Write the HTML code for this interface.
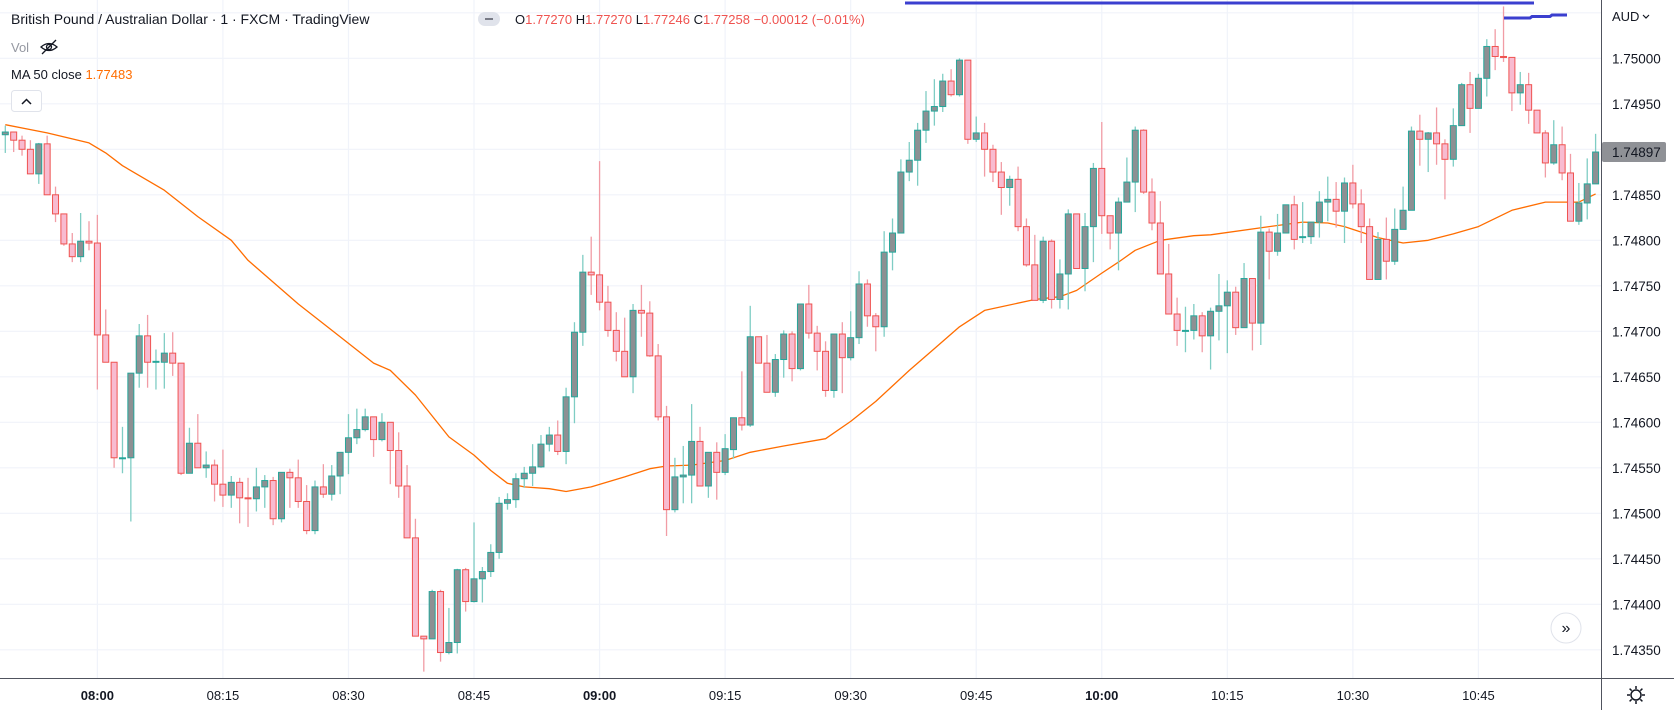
<!DOCTYPE html>
<html><head><meta charset="utf-8"><style>
html,body{margin:0;padding:0;background:#fff;}
svg{display:block;font-family:"Liberation Sans",sans-serif;}
</style></head><body>
<svg id="chart" width="1674" height="710" viewBox="0 0 1674 710" xmlns="http://www.w3.org/2000/svg">
<rect x="0" y="0" width="1674" height="710" fill="#ffffff"/>
<g id="grid"></g>
<g id="ma"></g>
<g id="candles"></g>
<g id="axes"></g>
<line x1="905" y1="3" x2="1534" y2="3" stroke="#3b3fcf" stroke-width="3"/>
<polyline points="1504,18 1530,18 1532,16.5 1550,16.5 1552,15 1567,15" fill="none" stroke="#3b3fcf" stroke-width="3"/>
<g>
<text x="11" y="24" font-size="14" fill="#131722">British Pound / Australian Dollar · 1 · FXCM · TradingView</text>
<rect x="478" y="12" width="22" height="14" rx="7" fill="#e0e3eb"/>
<rect x="485" y="18" width="8" height="2" fill="#787b86"/>
<text x="515" y="24" font-size="13" fill="#ef5350"><tspan fill="#131722">O</tspan>1.77270 <tspan fill="#131722">H</tspan>1.77270 <tspan fill="#131722">L</tspan>1.77246 <tspan fill="#131722">C</tspan>1.77258 −0.00012 (−0.01%)</text>
<text x="11" y="52" font-size="13" fill="#9598a1">Vol</text>
<g stroke="#131722" fill="none" stroke-width="1.3">
<path d="M41 47 Q49 40 57 47 Q49 54 41 47 Z"/><circle cx="49" cy="47" r="2.5"/><line x1="42" y1="54" x2="56" y2="40"/></g>
<text x="11" y="79" font-size="13" fill="#131722">MA 50 close <tspan fill="#ff6d00">1.77483</tspan></text>
<rect x="11.5" y="90.5" width="30" height="21" rx="3" fill="#fff" stroke="#e0e3eb"/>
<polyline points="22,104 26.5,99.5 31,104" fill="none" stroke="#131722" stroke-width="1.5"/>
</g>
<g>
<circle cx="1566" cy="628" r="15" fill="#fff" stroke="#e0e3eb"/>
<text x="1566" y="633" font-size="16" text-anchor="middle" fill="#131722">»</text></g>
<g fill="none" stroke="#131722" stroke-width="1.5">
<circle cx="1636" cy="695" r="5"/>
<path d="M1636 686v3M1636 701v3M1627 695h3M1642 695h3M1629.6 688.6l2.1 2.1M1640.3 699.3l2.1 2.1M1629.6 701.4l2.1-2.1M1640.3 690.7l2.1-2.1"/></g>
<text x="1612" y="21" font-size="13" fill="#131722">AUD</text>
<polyline points="1643,15 1646,18 1649,15" fill="none" stroke="#131722" stroke-width="1.2"/>
</svg>
<script>
const opens=[1.74916,1.74919,1.74910,1.74900,1.74873,1.74906,1.74850,1.74829,1.74796,1.74782,1.74799,1.74797,1.74696,1.74666,1.74561,1.74561,1.74654,1.74695,1.74666,1.74666,1.74676,1.74665,1.74544,1.74577,1.74550,1.74553,1.74532,1.74520,1.74534,1.74517,1.74516,1.74529,1.74536,1.74494,1.74545,1.74539,1.74513,1.74481,1.74529,1.74521,1.74541,1.74567,1.74583,1.74592,1.74606,1.74581,1.74600,1.74569,1.74530,1.74473,1.74365,1.74362,1.74414,1.74347,1.74358,1.74438,1.74403,1.74428,1.74436,1.74457,1.74511,1.74515,1.74538,1.74544,1.74551,1.74576,1.74586,1.74568,1.74628,1.74699,1.74765,1.74762,1.74732,1.74701,1.74678,1.74650,1.74723,1.74720,1.74673,1.74606,1.74504,1.74540,1.74542,1.74579,1.74530,1.74567,1.74545,1.74570,1.74605,1.74597,1.74694,1.74665,1.74633,1.74669,1.74697,1.74659,1.74730,1.74698,1.74678,1.74635,1.74697,1.74671,1.74693,1.74752,1.74717,1.74705,1.74787,1.74808,1.74875,1.74888,1.74921,1.74942,1.74947,1.74975,1.74960,1.74998,1.74911,1.74918,1.74900,1.74875,1.74858,1.74867,1.74815,1.74773,1.74734,1.74799,1.74735,1.74763,1.74829,1.74769,1.74815,1.74879,1.74827,1.74808,1.74842,1.74864,1.74921,1.74853,1.74819,1.74763,1.74719,1.74701,1.74701,1.74717,1.74695,1.74722,1.74728,1.74743,1.74704,1.74758,1.74709,1.74809,1.74788,1.74808,1.74839,1.74803,1.74804,1.74820,1.74842,1.74845,1.74832,1.74863,1.74840,1.74815,1.74757,1.74801,1.74777,1.74812,1.74833,1.74920,1.74911,1.74918,1.74906,1.74889,1.74926,1.74971,1.74945,1.74978,1.75013,1.75002,1.75001,1.74962,1.74971,1.74943,1.74918,1.74885,1.74905,1.74874,1.74821,1.74841,1.74862];
const highs=[1.74926,1.74919,1.74915,1.74910,1.74907,1.74915,1.74859,1.74829,1.74808,1.74830,1.74821,1.74828,1.74724,1.74666,1.74595,1.74654,1.74708,1.74718,1.74680,1.74698,1.74699,1.74665,1.74594,1.74609,1.74568,1.74559,1.74570,1.74541,1.74539,1.74539,1.74550,1.74542,1.74540,1.74545,1.74549,1.74559,1.74531,1.74536,1.74554,1.74553,1.74567,1.74609,1.74615,1.74615,1.74606,1.74610,1.74600,1.74589,1.74553,1.74494,1.74365,1.74416,1.74416,1.74396,1.74439,1.74440,1.74490,1.74441,1.74466,1.74518,1.74522,1.74544,1.74551,1.74576,1.74586,1.74595,1.74602,1.74638,1.74710,1.74784,1.74804,1.74887,1.74750,1.74721,1.74715,1.74730,1.74751,1.74733,1.74686,1.74618,1.74561,1.74574,1.74620,1.74595,1.74567,1.74578,1.74587,1.74605,1.74656,1.74728,1.74694,1.74696,1.74675,1.74701,1.74700,1.74730,1.74751,1.74706,1.74689,1.74697,1.74710,1.74722,1.74766,1.74757,1.74720,1.74810,1.74824,1.74889,1.74908,1.74929,1.74964,1.74977,1.74983,1.74988,1.75000,1.74998,1.74936,1.74929,1.74905,1.74886,1.74871,1.74881,1.74824,1.74806,1.74804,1.74801,1.74779,1.74834,1.74829,1.74830,1.74885,1.74930,1.74827,1.74847,1.74891,1.74925,1.74922,1.74868,1.74843,1.74796,1.74737,1.74727,1.74730,1.74721,1.74726,1.74763,1.74756,1.74749,1.74775,1.74758,1.74827,1.74813,1.74829,1.74839,1.74849,1.74842,1.74820,1.74854,1.74870,1.74864,1.74869,1.74883,1.74856,1.74824,1.74809,1.74825,1.74835,1.74859,1.74925,1.74938,1.74919,1.74946,1.74911,1.74945,1.74973,1.74985,1.74983,1.75021,1.75032,1.75057,1.75001,1.74985,1.74984,1.74943,1.74921,1.74932,1.74925,1.74895,1.74863,1.74890,1.74917];
const lows=[1.74896,1.74897,1.74893,1.74873,1.74862,1.74850,1.74820,1.74794,1.74776,1.74776,1.74789,1.74636,1.74666,1.74550,1.74544,1.74491,1.74638,1.74638,1.74636,1.74637,1.74651,1.74542,1.74544,1.74550,1.74539,1.74513,1.74507,1.74506,1.74489,1.74485,1.74502,1.74506,1.74487,1.74490,1.74506,1.74506,1.74477,1.74477,1.74517,1.74514,1.74521,1.74543,1.74576,1.74590,1.74562,1.74579,1.74532,1.74517,1.74473,1.74365,1.74326,1.74362,1.74337,1.74345,1.74346,1.74392,1.74402,1.74402,1.74430,1.74450,1.74504,1.74506,1.74528,1.74530,1.74550,1.74568,1.74564,1.74554,1.74599,1.74684,1.74740,1.74723,1.74694,1.74667,1.74650,1.74632,1.74694,1.74672,1.74602,1.74475,1.74501,1.74511,1.74511,1.74530,1.74517,1.74515,1.74542,1.74560,1.74591,1.74595,1.74665,1.74633,1.74628,1.74649,1.74645,1.74657,1.74692,1.74657,1.74628,1.74627,1.74632,1.74668,1.74686,1.74705,1.74678,1.74694,1.74767,1.74808,1.74865,1.74860,1.74907,1.74926,1.74941,1.74958,1.74958,1.74906,1.74908,1.74870,1.74864,1.74828,1.74838,1.74810,1.74771,1.74734,1.74731,1.74725,1.74725,1.74724,1.74769,1.74744,1.74776,1.74807,1.74790,1.74767,1.74842,1.74831,1.74851,1.74811,1.74763,1.74719,1.74684,1.74677,1.74691,1.74677,1.74658,1.74690,1.74676,1.74696,1.74704,1.74679,1.74685,1.74757,1.74783,1.74808,1.74790,1.74797,1.74796,1.74803,1.74821,1.74814,1.74797,1.74835,1.74797,1.74757,1.74757,1.74757,1.74773,1.74812,1.74833,1.74882,1.74875,1.74883,1.74845,1.74881,1.74926,1.74918,1.74945,1.74958,1.74987,1.74996,1.74942,1.74949,1.74928,1.74918,1.74869,1.74883,1.74866,1.74821,1.74817,1.74823,1.74862];
const closes=[1.74919,1.74910,1.74900,1.74873,1.74906,1.74850,1.74829,1.74796,1.74782,1.74799,1.74797,1.74696,1.74666,1.74561,1.74561,1.74654,1.74695,1.74666,1.74667,1.74676,1.74665,1.74544,1.74577,1.74550,1.74553,1.74532,1.74520,1.74534,1.74517,1.74516,1.74529,1.74536,1.74494,1.74545,1.74539,1.74513,1.74481,1.74529,1.74521,1.74541,1.74567,1.74583,1.74592,1.74606,1.74581,1.74600,1.74569,1.74530,1.74473,1.74365,1.74362,1.74414,1.74347,1.74358,1.74438,1.74403,1.74428,1.74436,1.74457,1.74511,1.74515,1.74538,1.74544,1.74551,1.74576,1.74586,1.74568,1.74628,1.74699,1.74765,1.74762,1.74732,1.74701,1.74678,1.74650,1.74723,1.74720,1.74673,1.74606,1.74504,1.74540,1.74542,1.74579,1.74530,1.74567,1.74545,1.74571,1.74605,1.74597,1.74694,1.74665,1.74633,1.74669,1.74697,1.74659,1.74730,1.74698,1.74678,1.74635,1.74697,1.74671,1.74693,1.74752,1.74717,1.74705,1.74787,1.74808,1.74875,1.74888,1.74921,1.74942,1.74947,1.74975,1.74960,1.74998,1.74911,1.74918,1.74900,1.74875,1.74858,1.74867,1.74815,1.74773,1.74734,1.74799,1.74735,1.74763,1.74829,1.74769,1.74815,1.74879,1.74827,1.74808,1.74842,1.74864,1.74921,1.74853,1.74819,1.74763,1.74719,1.74701,1.74701,1.74717,1.74695,1.74722,1.74728,1.74743,1.74704,1.74758,1.74709,1.74809,1.74788,1.74808,1.74839,1.74801,1.74804,1.74820,1.74842,1.74845,1.74832,1.74863,1.74840,1.74815,1.74757,1.74801,1.74777,1.74812,1.74833,1.74920,1.74911,1.74918,1.74906,1.74889,1.74926,1.74971,1.74945,1.74978,1.75013,1.75002,1.75001,1.74962,1.74971,1.74943,1.74918,1.74885,1.74905,1.74874,1.74821,1.74841,1.74862,1.74897];
const maIndex=[0,5,10,12,14,19,23,27,29,35,40,44,46,49,53,56,58,60,62,65,67,70,74,77,79,82,86,89,93,98,101,104,108,111,114,117,123,126,128,131,133,135,138,142,144,151,155,158,160,164,167,170,173,176,180,184,188,190];
const maValues=[1.74927,1.74918,1.74907,1.74896,1.74882,1.74855,1.74826,1.74800,1.74778,1.74730,1.74694,1.74665,1.74657,1.74630,1.74584,1.74564,1.74547,1.74533,1.74529,1.74527,1.74524,1.74529,1.74540,1.74549,1.74552,1.74553,1.74558,1.74567,1.74574,1.74582,1.74601,1.74623,1.74657,1.74681,1.74705,1.74723,1.74735,1.74738,1.74745,1.74764,1.74776,1.74789,1.74800,1.74805,1.74806,1.74815,1.74820,1.74819,1.74815,1.74803,1.74797,1.74800,1.74807,1.74815,1.74833,1.74842,1.74842,1.74851];
const priceTicks=[1.7505,1.7500,1.7495,1.7490,1.7485,1.7480,1.7475,1.7470,1.7465,1.7460,1.7455,1.7450,1.7445,1.7440,1.7435];
const priceTickLabels=["","1.75000","1.74950","","1.74850","1.74800","1.74750","1.74700","1.74650","1.74600","1.74550","1.74500","1.74450","1.74400","1.74350"];
const timeTickIndex=[11,26,41,56,71,86,101,116,131,146,161,176];
const timeTickLabels=["08:00","08:15","08:30","08:45","09:00","09:15","09:30","09:45","10:00","10:15","10:30","10:45"];
const lastPrice=1.74897;

const NS="http://www.w3.org/2000/svg";
const PANE_W=1601, PANE_H=678;
function xScale(i){return 5.3+8.37*i;}
function yScale(p){return 58.3+(1.75-p)*91000;}
function mk(tag,attrs,parent){const e=document.createElementNS(NS,tag);for(const k in attrs)e.setAttribute(k,attrs[k]);parent.appendChild(e);return e;}

const grid=document.getElementById('grid');
priceTicks.forEach(function(p){
  const l=mk('line',{x1:0,x2:PANE_W,y1:yScale(p),y2:yScale(p),stroke:'#f0f3fa','stroke-width':1.2},grid);
  
  
});
timeTickIndex.forEach(function(i){
  const l=mk('line',{x1:xScale(i),x2:xScale(i),y1:0,y2:PANE_H,stroke:'#f0f3fa','stroke-width':1.2},grid);
  
  
});

const ma=document.getElementById('ma');
const pts=maIndex.map(function(i,j){return xScale(i).toFixed(1)+','+yScale(maValues[j]).toFixed(1);}).join(' ');
const maLine=mk('polyline',{points:pts,fill:'none',stroke:'#ff6d00','stroke-width':1.3,'stroke-linejoin':'round'},ma);



const cg=document.getElementById('candles');
for(let i=0;i<closes.length;i++){
  const o=opens[i],c=closes[i];
  const h=Math.max(highs[i],o,c),lo=Math.min(lows[i],o,c);
  const up=c>=o;
  const x=xScale(i);
  const g=mk('g',{},cg);
  
  
  mk('line',{x1:x,x2:x,y1:yScale(h),y2:yScale(lo),stroke:up?'#7fcdc4':'#f19ca5','stroke-width':1.3},g);
  const top=yScale(Math.max(o,c)),bot=yScale(Math.min(o,c));
  const hgt=Math.max(bot-top,1);
  mk('rect',{x:x-3,y:top,width:6,height:hgt,fill:up?'#8d9093':'#f8bbd0',stroke:up?'#26a69a':'#ef5350','stroke-width':1},g);
}

const ax=document.getElementById('axes');
let s=mk('rect',{x:PANE_W,y:0,width:1674-PANE_W,height:710,fill:'#fff'},ax);


s=mk('rect',{x:0,y:PANE_H,width:PANE_W,height:710-PANE_H,fill:'#fff'},ax);


s=mk('line',{x1:PANE_W+0.5,x2:PANE_W+0.5,y1:0,y2:710,stroke:'#50535e','stroke-width':1},ax);


s=mk('line',{x1:0,x2:1674,y1:PANE_H+0.5,y2:PANE_H+0.5,stroke:'#50535e','stroke-width':1},ax);


priceTicks.forEach(function(p,j){
  if(!priceTickLabels[j])return;
  const t=mk('text',{x:1612,y:yScale(p)+5,'font-size':13.5,fill:'#131722'},ax);
  t.textContent=priceTickLabels[j];
  
  
});
timeTickIndex.forEach(function(i,j){
  const bold=timeTickLabels[j].slice(3)==='00';
  const t=mk('text',{x:xScale(i),y:700,'font-size':13,'text-anchor':'middle',fill:'#131722','font-weight':bold?'bold':'normal'},ax);
  t.textContent=timeTickLabels[j];
  
  
});
const yp=yScale(lastPrice);
s=mk('rect',{x:PANE_W+1,y:yp-10,width:64,height:20,rx:2,fill:'#8f9196'},ax);


s=mk('text',{x:1612,y:yp+5,'font-size':13.5,fill:'#131722'},ax);
s.textContent=lastPrice.toFixed(5);


</script>
</body></html>
